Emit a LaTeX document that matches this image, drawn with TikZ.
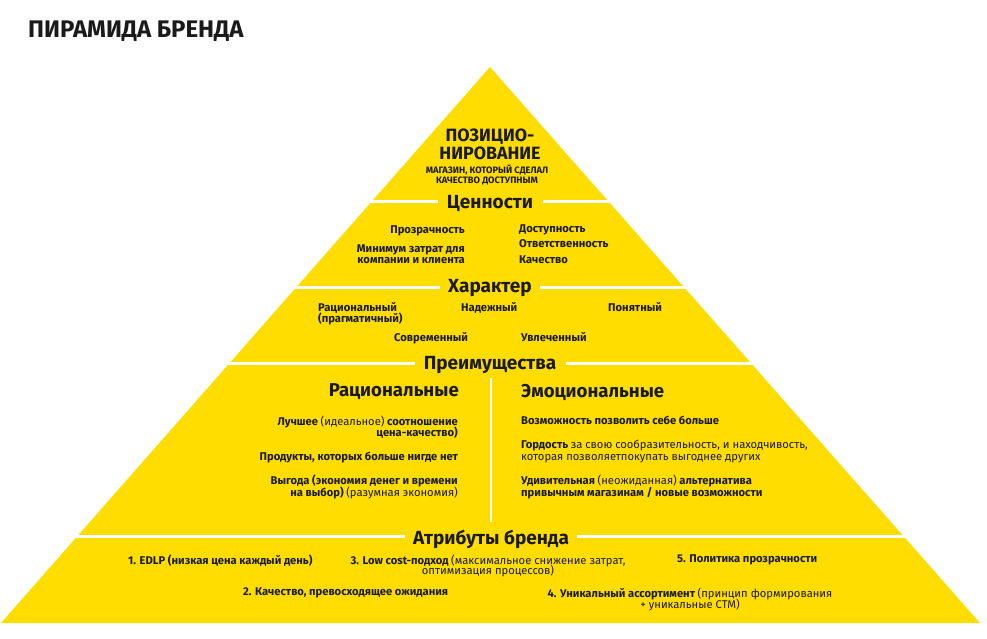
\documentclass[tikz,border=0pt]{standalone}
\usepackage{fontspec}
\setmainfont{Fira Sans}
\definecolor{brandyellow}{HTML}{FFDD00}
\definecolor{brandink}{HTML}{1A1A1A}
\tikzset{
    every node/.style={inner sep=0pt, text=brandink},
    layertitle/.style={font=\bfseries\fontsize{19}{21}\selectfont, fill=brandyellow, minimum height=14pt},
    subtitle/.style={font=\bfseries\fontsize{18.6}{20}\selectfont},
    txt/.style={font=\bfseries\fontsize{11.2}{11}\selectfont},
    txtl/.style={txt, anchor=north west, align=left},
    txtr/.style={txt, anchor=north east, align=right},
    txtc/.style={txt, anchor=north, align=center},
    sepline/.style={draw=white, line width=2.4pt},
}
\newcommand{\lt}[1]{{\mdseries #1}}
\begin{document}
\begin{tikzpicture}[x=1pt, y=-1pt]
    \useasboundingbox (0,0) rectangle (987,639);
    \fill[brandyellow] (490,67) -- (980,623) -- (1,623) -- cycle;
    % separators
    \draw[sepline] (300,201.5) -- (680,201.5);
    \draw[sepline] (220,287.5) -- (760,287.5);
    \draw[sepline] (150,363.5) -- (830,363.5);
    \draw[sepline] (40,536.5) -- (940,536.5);
    \draw[draw=white, line width=2pt] (491,378) -- (491,522);

    \node[font=\bfseries\fontsize{24}{26}\selectfont, anchor=west] (title) at (28,31) {ПИРАМИДА БРЕНДА};

    % top
    \node[font=\bfseries\fontsize{17.8}{17.5}\selectfont, align=center, anchor=north] (pos) at (490,129) {ПОЗИЦИО-\\НИРОВАНИЕ};
    \node[font=\bfseries\fontsize{9.3}{9.5}\selectfont, align=center, anchor=north] (possub) at (487,165) {МАГАЗИН, КОТОРЫЙ СДЕЛАЛ\\КАЧЕСТВО ДОСТУПНЫМ};

    % values
    \node[layertitle, minimum width=105pt] (values) at (490,203) {Ценности};
    \node[txtr] (val1) at (465,226) {Прозрачность};
    \node[txtr] (val2) at (465,245) {Минимум затрат для\\компании и клиента};
    \node[txtl] (val3) at (519,225) {Доступность};
    \node[txtl] (val4) at (519,239) {Ответственность};
    \node[txtl] (val5) at (519,256) {Качество};

    % character
    \node[layertitle, minimum width=100pt] (character) at (490,288) {Характер};
    \node[txtl, font=\bfseries\fontsize{11.2}{9.5}\selectfont] (char1) at (318,302) {Рациональный\\[-1pt](прагматичный)};
    \node[txtl] (char2) at (461,302) {Надежный};
    \node[txtl] (char3) at (608,302) {Понятный};
    \node[txtl] (char4) at (394,332) {Современный};
    \node[txtl] (char5) at (521,332) {Увлеченный};

    % advantages
    \node[layertitle, minimum width=151pt] (adv) at (490,365) {Преимущества};
    \node[subtitle, anchor=east] (rat) at (459,392) {Рациональные};
    \node[subtitle, anchor=west] (emo) at (521,392) {Эмоциональные};
    \node[txtr] (rat1) at (458,416) {Лучшее \lt{(идеальное)} соотношение\\[-2pt]цена-качество)};
    \node[txtr] (rat2) at (458,452) {Продукты, которых больше нигде нет};
    \node[txtr] (rat3) at (458,475) {Выгода (экономия денег и времени\\[-1pt]на выбор) \lt{(разумная экономия)}};
    \node[txtl] (emo1) at (521,416) {Возможность позволить себе больше};
    \node[txtl] (emo2) at (521,440) {Гордость \lt{за свою сообразительность, и находчивость,}\\[1pt]\lt{которая позволяетпокупать выгоднее других}};
    \node[txtl] (emo3) at (521,475) {Удивительная \lt{(неожиданная)} альтернатива\\[-1pt]привычным магазинам / новые возможности};

    % attributes
    \node[layertitle, minimum width=172pt] (attr) at (491,539) {Атрибуты бренда};
    \node[txtl] (attr1) at (128,555) {1. EDLP (низкая цена каждый день)};
    \node[txtc] (attr3) at (488,555) {3. Low cost-подход \lt{(максимальное снижение затрат,}\\[-3pt]\lt{оптимизация процессов)}};
    \node[txtl] (attr5) at (677,555) {5. Политика прозрачности};
    \node[txtl] (attr2) at (243,588) {2. Качество, превосходящее ожидания};
    \node[txtc] (attr4) at (690,588) {4. Уникальный ассортимент \lt{(принцип формирования}\\[-2pt]\lt{+ уникальные СТМ)}};
\end{tikzpicture}
\end{document}
